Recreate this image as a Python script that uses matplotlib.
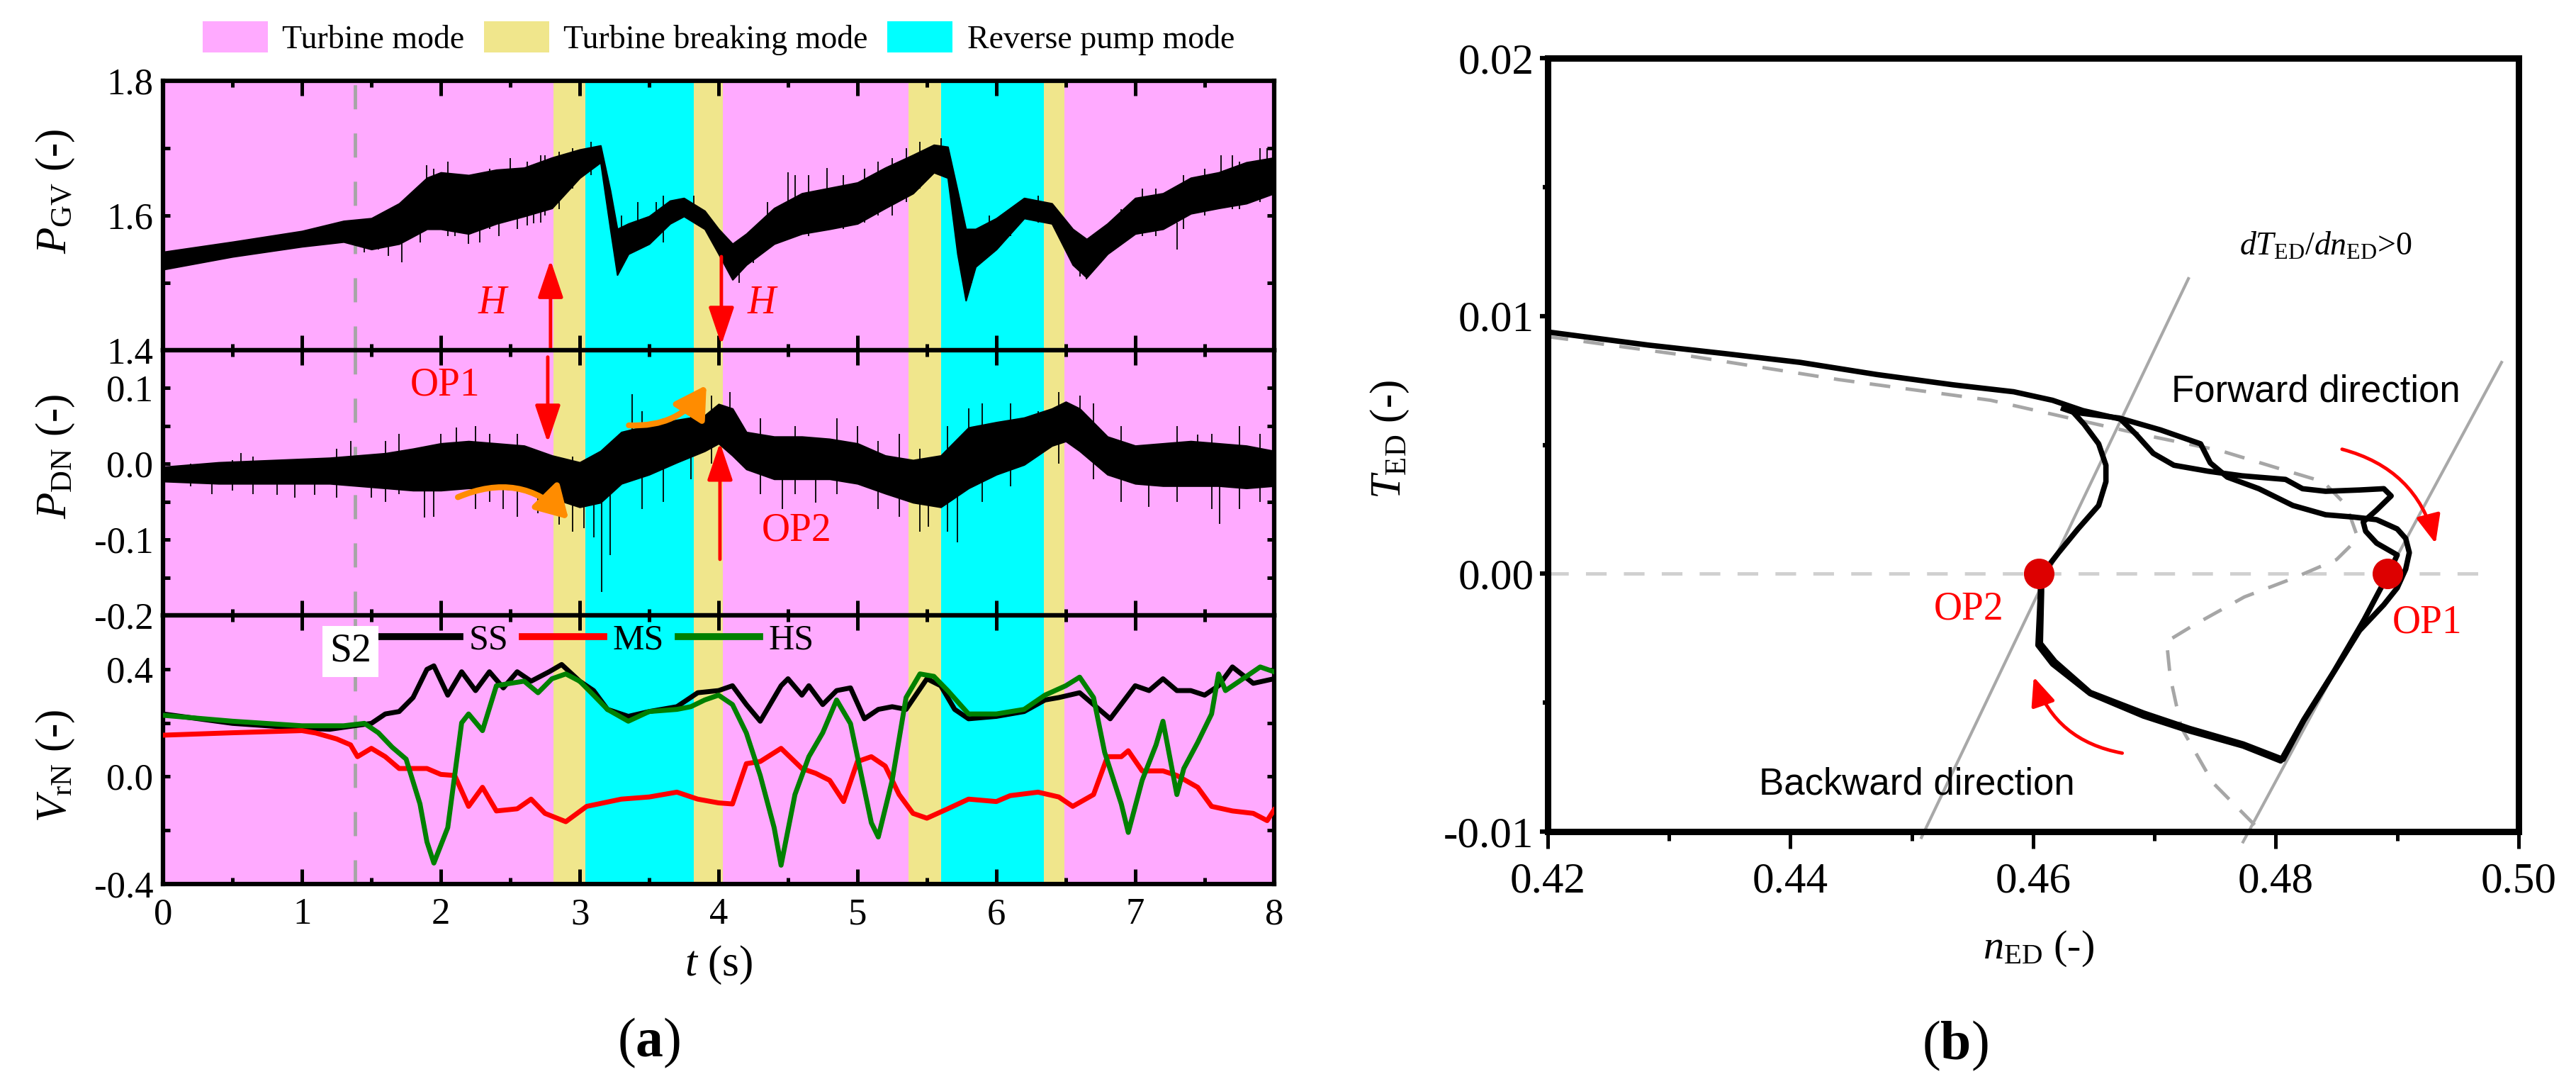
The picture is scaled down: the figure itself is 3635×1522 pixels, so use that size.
import numpy as np
import matplotlib.pyplot as plt
from matplotlib.patches import Patch, FancyArrowPatch
from matplotlib.lines import Line2D

plt.rcParams['font.family'] = ['Liberation Serif', 'DejaVu Serif']
plt.rcParams['mathtext.fontset'] = 'custom'
plt.rcParams['mathtext.rm'] = 'Liberation Serif'
plt.rcParams['mathtext.it'] = 'Liberation Serif:italic'
plt.rcParams['mathtext.bf'] = 'Liberation Serif:bold'
plt.rcParams['axes.unicode_minus'] = False

# ---------------- data ----------------
# operating modes along time
mode_start = [0.0, 2.81, 3.04, 3.82, 4.03, 5.37, 5.60, 6.34, 6.49]
mode_end = [2.81, 3.04, 3.82, 4.03, 5.37, 5.60, 6.34, 6.49, 8.0]
mode_kind = ['T', 'B', 'P', 'B', 'T', 'B', 'P', 'B', 'T']
mode_names = {'T': 'Turbine mode', 'B': 'Turbine breaking mode', 'P': 'Reverse pump mode'}
mode_colors = {'T': '#ffaaff', 'B': '#f0e68c', 'P': '#00ffff'}
t_s2 = 1.38

# P_GV : dense noisy band (upper / lower envelope) + single spikes
pgv_t = [0, 0.5, 1.0, 1.3, 1.5, 1.7, 1.9, 2.0, 2.2, 2.4, 2.6, 2.8, 3.0, 3.15, 3.22, 3.27,
         3.35, 3.5, 3.65, 3.75, 3.9, 4.0, 4.1, 4.2, 4.4, 4.6, 4.8, 5.0, 5.2, 5.4, 5.55,
         5.65, 5.72, 5.78, 5.85, 6.0, 6.2, 6.4, 6.55, 6.65, 6.8, 7.0, 7.2, 7.4, 7.6, 7.8, 8.0]
pgv_hi = [1.546, 1.561, 1.577, 1.592, 1.596, 1.618, 1.656, 1.664, 1.660, 1.668, 1.671, 1.686,
          1.698, 1.704, 1.637, 1.580, 1.588, 1.599, 1.622, 1.626, 1.607, 1.580, 1.558, 1.573,
          1.611, 1.633, 1.641, 1.649, 1.671, 1.690, 1.705, 1.702, 1.637, 1.580, 1.580, 1.596,
          1.626, 1.618, 1.580, 1.565, 1.588, 1.626, 1.633, 1.656, 1.664, 1.679, 1.686]
pgv_lo = [1.520, 1.539, 1.554, 1.561, 1.550, 1.558, 1.580, 1.580, 1.573, 1.588, 1.599, 1.611,
          1.656, 1.679, 1.580, 1.512, 1.543, 1.558, 1.588, 1.599, 1.580, 1.543, 1.505, 1.527,
          1.558, 1.573, 1.580, 1.588, 1.611, 1.633, 1.664, 1.656, 1.543, 1.474, 1.524, 1.550,
          1.596, 1.588, 1.527, 1.508, 1.543, 1.573, 1.580, 1.603, 1.611, 1.618, 1.633]
pgv_spk_t = [1.45, 1.55, 1.62, 1.72, 1.78, 1.85, 1.9, 1.95, 2.05, 2.1, 2.2, 2.28, 2.35, 2.42,
             2.5, 2.55, 2.62, 2.67, 2.72, 2.75, 2.85, 2.95, 3.08, 3.3, 3.42, 3.55, 3.6, 3.82,
             4.15, 4.25, 4.35, 4.5, 4.55, 4.65, 4.78, 4.9, 5.05, 5.15, 5.25, 5.35, 5.45, 5.6,
             5.82, 5.95, 6.1, 6.3, 6.6, 6.65, 6.75, 6.9, 7.05, 7.15, 7.3, 7.35, 7.5, 7.62,
             7.7, 7.75, 7.9, 7.95]
pgv_spk_lo = [1.545, 1.55, 1.54, 1.531, 1.57, 1.56, 1.60, 1.59, 1.57, 1.57, 1.558, 1.56, 1.58,
              1.57, 1.60, 1.58, 1.585, 1.588, 1.59, 1.60, 1.61, 1.64, 1.66, 1.53, 1.55, 1.57,
              1.56, 1.59, 1.50, 1.53, 1.55, 1.62, 1.57, 1.57, 1.62, 1.58, 1.59, 1.60, 1.60,
              1.62, 1.64, 1.66, 1.50, 1.54, 1.57, 1.59, 1.51, 1.505, 1.53, 1.56, 1.57, 1.57,
              1.55, 1.58, 1.60, 1.64, 1.61, 1.61, 1.62, 1.63]
pgv_spk_hi = [1.57, 1.60, 1.59, 1.56, 1.63, 1.64, 1.675, 1.67, 1.68, 1.66, 1.59, 1.66, 1.67,
              1.66, 1.685, 1.67, 1.68, 1.62, 1.69, 1.69, 1.695, 1.70, 1.71, 1.60, 1.62, 1.62,
              1.63, 1.63, 1.55, 1.58, 1.62, 1.664, 1.66, 1.66, 1.671, 1.66, 1.67, 1.68, 1.685,
              1.70, 1.71, 1.715, 1.58, 1.60, 1.61, 1.63, 1.56, 1.53, 1.58, 1.61, 1.64, 1.64,
              1.59, 1.66, 1.67, 1.69, 1.69, 1.68, 1.70, 1.70]

# P_DN : dense noisy band + single spikes
pdn_t = [0, 0.4, 0.8, 1.2, 1.4, 1.6, 1.8, 2.0, 2.2, 2.4, 2.6, 2.8, 3.0, 3.15, 3.3, 3.5, 3.7,
         3.9, 4.0, 4.1, 4.2, 4.4, 4.6, 4.8, 5.0, 5.2, 5.4, 5.6, 5.8, 6.0, 6.2, 6.4, 6.5, 6.6,
         6.8, 7.0, 7.2, 7.4, 7.6, 7.8, 8.0]
pdn_hi = [-0.004, 0.002, 0.005, 0.008, 0.011, 0.014, 0.020, 0.027, 0.030, 0.027, 0.024, 0.011,
          0.002, 0.017, 0.042, 0.051, 0.058, 0.064, 0.079, 0.073, 0.042, 0.036, 0.036, 0.033,
          0.027, 0.011, 0.005, 0.011, 0.048, 0.055, 0.061, 0.073, 0.082, 0.073, 0.036, 0.024,
          0.027, 0.030, 0.027, 0.024, 0.017]
pdn_lo = [-0.023, -0.026, -0.026, -0.026, -0.029, -0.032, -0.035, -0.035, -0.032, -0.032,
          -0.035, -0.045, -0.057, -0.051, -0.026, -0.014, 0.002, 0.017, 0.027, 0.011, -0.007,
          -0.020, -0.020, -0.020, -0.026, -0.039, -0.051, -0.057, -0.032, -0.014, -0.001,
          0.024, 0.030, 0.017, -0.014, -0.026, -0.029, -0.029, -0.029, -0.032, -0.029]
pdn_spk_t = [0.2, 0.35, 0.5, 0.56, 0.65, 0.82, 0.95, 1.09, 1.25, 1.35, 1.5, 1.6, 1.7, 1.88,
             1.95, 2.0, 2.11, 2.25, 2.35, 2.45, 2.55, 2.7, 2.85, 2.95, 3.03, 3.10, 3.16, 3.22,
             3.38, 3.45, 3.6, 3.8, 3.95, 4.08, 4.3, 4.46, 4.55, 4.7, 4.85, 5.0, 5.15, 5.3,
             5.45, 5.51, 5.65, 5.72, 5.8, 5.9, 6.1, 6.3, 6.45, 6.6, 6.7, 6.9, 7.1, 7.3, 7.45,
             7.55, 7.61, 7.75, 7.9]
pdn_spk_lo = [-0.03, -0.04, -0.035, -0.01, -0.04, -0.041, -0.045, -0.041, -0.045, -0.03,
              -0.045, -0.05, -0.04, -0.071, -0.07, 0.0, 0.0, -0.06, -0.05, -0.06, -0.07, -0.065,
              -0.08, -0.09, -0.085, -0.097, -0.169, -0.12, 0.0, -0.06, -0.05, -0.02, 0.0, 0.05,
              -0.04, -0.06, -0.04, -0.051, -0.04, 0.01, -0.06, -0.07, -0.09, -0.083, -0.09,
              -0.104, 0.03, -0.05, -0.03, 0.03, 0.0, 0.05, -0.02, -0.05, -0.057, -0.05, 0.01,
              -0.06, -0.079, -0.06, -0.05]
pdn_spk_hi = [0.0, 0.0, 0.005, 0.014, 0.01, -0.01, 0.005, -0.01, 0.02, 0.03, 0.0, 0.03, 0.04,
              -0.02, 0.02, 0.04, 0.048, 0.05, 0.04, 0.0, 0.04, -0.02, 0.0, 0.01, -0.04, -0.04,
              -0.05, 0.0, 0.092, 0.07, 0.06, 0.07, 0.09, 0.095, 0.06, -0.01, 0.05, -0.01, 0.06,
              0.05, 0.03, 0.04, 0.02, -0.04, 0.05, -0.04, 0.073, 0.08, 0.08, 0.07, 0.095, 0.09,
              0.08, 0.05, -0.02, 0.05, 0.039, 0.04, -0.02, 0.05, 0.04]

# V_rN : three smooth signals
ss_t = [0, 0.5, 1.0, 1.2, 1.5, 1.6, 1.7, 1.8, 1.9, 1.95, 2.05, 2.15, 2.25, 2.35, 2.45, 2.55,
        2.65, 2.78, 2.87, 3.0, 3.1, 3.2, 3.35, 3.5, 3.7, 3.85, 4.0, 4.1, 4.2, 4.3, 4.45, 4.5,
        4.6, 4.65, 4.75, 4.85, 4.95, 5.05, 5.15, 5.25, 5.35, 5.5, 5.6, 5.7, 5.8, 6.0, 6.2,
        6.35, 6.45, 6.6, 6.7, 6.82, 7.0, 7.1, 7.2, 7.3, 7.4, 7.5, 7.6, 7.7, 7.85, 8.0]
ss_v = [0.233, 0.198, 0.18, 0.176, 0.198, 0.233, 0.242, 0.294, 0.399, 0.412, 0.303, 0.39,
        0.32, 0.39, 0.33, 0.39, 0.355, 0.39, 0.417, 0.355, 0.32, 0.25, 0.224, 0.242, 0.26,
        0.312, 0.32, 0.338, 0.268, 0.206, 0.338, 0.364, 0.303, 0.338, 0.268, 0.32, 0.33,
        0.215, 0.25, 0.26, 0.25, 0.364, 0.338, 0.25, 0.215, 0.224, 0.242, 0.285, 0.294,
        0.312, 0.268, 0.215, 0.338, 0.32, 0.364, 0.32, 0.32, 0.303, 0.338, 0.408, 0.347, 0.364]
ms_t = [0, 0.5, 1.0, 1.1, 1.25, 1.35, 1.4, 1.5, 1.6, 1.7, 1.9, 2.0, 2.1, 2.2, 2.3, 2.4, 2.55,
        2.65, 2.75, 2.9, 3.05, 3.3, 3.5, 3.7, 3.85, 4.0, 4.1, 4.2, 4.3, 4.45, 4.6, 4.7, 4.8,
        4.9, 5.0, 5.1, 5.2, 5.3, 5.4, 5.5, 5.65, 5.8, 6.0, 6.1, 6.3, 6.45, 6.55, 6.7, 6.8,
        6.9, 6.95, 7.05, 7.2, 7.3, 7.45, 7.55, 7.7, 7.85, 7.95, 8.0]
ms_v = [0.154, 0.163, 0.171, 0.162, 0.14, 0.118, 0.074, 0.105, 0.074, 0.03, 0.03, 0.008,
        0.004, -0.111, -0.04, -0.128, -0.12, -0.084, -0.137, -0.168, -0.111, -0.084, -0.076,
        -0.058, -0.084, -0.098, -0.102, 0.048, 0.056, 0.105, 0.03, 0.012, -0.014, -0.093,
        0.056, 0.074, 0.039, -0.067, -0.137, -0.155, -0.12, -0.084, -0.093, -0.071, -0.058,
        -0.076, -0.111, -0.067, 0.074, 0.074, 0.096, 0.021, 0.021, 0.004, -0.04, -0.111,
        -0.128, -0.137, -0.164, -0.124]
hs_t = [0, 0.5, 1.0, 1.3, 1.45, 1.55, 1.65, 1.75, 1.85, 1.9, 1.95, 2.05, 2.15, 2.2, 2.3, 2.4,
        2.5, 2.6, 2.7, 2.8, 2.9, 3.0, 3.1, 3.2, 3.35, 3.5, 3.7, 3.8, 3.9, 4.0, 4.1, 4.2, 4.3,
        4.4, 4.45, 4.55, 4.65, 4.75, 4.85, 4.95, 5.1, 5.15, 5.25, 5.35, 5.45, 5.55, 5.65, 5.8,
        6.0, 6.2, 6.35, 6.5, 6.6, 6.7, 6.78, 6.9, 6.95, 7.05, 7.15, 7.2, 7.3, 7.35, 7.45,
        7.55, 7.6, 7.65, 7.75, 7.9, 8.0]
hs_v = [0.228, 0.206, 0.189, 0.189, 0.198, 0.163, 0.109, 0.065, -0.102, -0.243, -0.322,
        -0.19, 0.2, 0.233, 0.171, 0.338, 0.347, 0.355, 0.312, 0.364, 0.382, 0.355, 0.303,
        0.25, 0.206, 0.242, 0.25, 0.26, 0.285, 0.303, 0.268, 0.162, 0.004, -0.19, -0.33,
        -0.067, 0.074, 0.163, 0.285, 0.197, -0.172, -0.225, -0.014, 0.294, 0.382, 0.373,
        0.32, 0.233, 0.233, 0.25, 0.303, 0.338, 0.37, 0.294, 0.09, -0.102, -0.208, -0.014,
        0.118, 0.206, -0.067, 0.03, 0.127, 0.233, 0.382, 0.32, 0.355, 0.408, 0.39]

# annotations of panel (a)
h_arrow_t = [2.79, 4.02]
h_arrow_from = [1.40, 1.539]
h_arrow_to = [1.534, 1.408]
h_text_t = [2.37, 4.31]
op_arrow_t = [2.77, 4.01]
op_arrow_from = [0.141, -0.126]
op_arrow_to = [0.028, 0.028]
op_text = ['OP1', 'OP2']
op_text_t = [2.03, 4.56]
op_text_v = [0.104, -0.088]
orange_from = [(2.11, -0.045), (3.34, 0.051)]
orange_to = [(2.93, -0.075), (3.92, 0.106)]
orange_rad = [-0.35, 0.3]

# panel (b): T_ED vs n_ED trajectory
loop1_n = [0.4200, 0.4283, 0.4346, 0.4408, 0.4471, 0.4534, 0.4584, 0.4616, 0.4641, 0.4672,
           0.4685, 0.4699, 0.4716, 0.4744, 0.4772, 0.4808, 0.4822, 0.4841, 0.4869, 0.4889,
           0.4895, 0.4883, 0.4872, 0.4874, 0.4883, 0.4900, 0.4893, 0.4886, 0.4873, 0.4848,
           0.4823, 0.4804, 0.4773, 0.4729, 0.4691, 0.4647, 0.4616, 0.4604, 0.4606, 0.4606,
           0.4612, 0.4621, 0.4637, 0.4654, 0.4660, 0.4660, 0.4654, 0.4642, 0.4633]
loop1_T = [0.00938, 0.00887, 0.00854, 0.00820, 0.00773, 0.00733, 0.00706, 0.00673, 0.00633,
           0.00600, 0.00540, 0.00467, 0.00421, 0.00398, 0.00380, 0.00366, 0.00330, 0.00320,
           0.00325, 0.00330, 0.00302, 0.00247, 0.00201, 0.00165, 0.00119, 0.00073, 0.0,
           -0.00060, -0.00176, -0.00378, -0.00566, -0.00726, -0.00668, -0.00610, -0.00552,
           -0.00465, -0.00350, -0.00277, -0.00074, 0.0, 0.00027, 0.00082, 0.00174, 0.00265,
           0.00357, 0.00421, 0.00504, 0.00580, 0.00627]
loop2_n = [0.4625, 0.4633, 0.4671, 0.4705, 0.4738, 0.4746, 0.4760, 0.4786, 0.4814, 0.4841,
           0.4864, 0.4883, 0.4900, 0.4907, 0.4910, 0.4907, 0.4900, 0.4889, 0.4869, 0.4848,
           0.4823, 0.4806, 0.4773, 0.4729, 0.4691, 0.4647, 0.4618, 0.4606, 0.4607, 0.4607]
loop2_T = [0.00640, 0.00627, 0.00604, 0.00558, 0.00504, 0.00430, 0.00375, 0.00330, 0.00265,
           0.00229, 0.00220, 0.00210, 0.00174, 0.00137, 0.00082, 0.00018, -0.00055, -0.00120,
           -0.00220, -0.00380, -0.00570, -0.00720, -0.00660, -0.00600, -0.00540, -0.00460,
           -0.00340, -0.00270, -0.00070, 0.0]
steady_n = [0.4200, 0.4314, 0.4440, 0.4565, 0.4628, 0.4691, 0.4754, 0.4800, 0.4839, 0.4858,
            0.4867, 0.4864, 0.4850, 0.4814, 0.4774, 0.4732, 0.4710, 0.4713, 0.4722, 0.4748,
            0.4785]
steady_T = [0.00920, 0.00847, 0.00753, 0.00673, 0.00606, 0.00539, 0.00478, 0.00412, 0.00357,
            0.00266, 0.00147, 0.00120, 0.00055, -0.00018, -0.00090, -0.00200, -0.00263,
            -0.00400, -0.00596, -0.00810, -0.00986]
zero_n = [0.420, 0.4974]
zero_T = [0.0, 0.0]
tangent1_n = [0.4508, 0.4728]
tangent1_T = [-0.01023, 0.01145]
tangent2_n = [0.4773, 0.4986]
tangent2_T = [-0.0104, 0.0082]
op_pts_n = [0.4605, 0.4892]
op_pts_T = [0.0, 0.0]
op_lbl = ['OP2', 'OP1']
op_lbl_n = [0.4547, 0.4925]
op_lbl_T = [-0.00139, -0.0019]
dir_from = [(0.4853, 0.00485), (0.4675, -0.00697)]
dir_to = [(0.4932, 0.00110), (0.4600, -0.00393)]

# ticks
t_ticks = [0, 1, 2, 3, 4, 5, 6, 7, 8]
t_minor = [0.5, 1.5, 2.5, 3.5, 4.5, 5.5, 6.5, 7.5]
pgv_ticks = [1.4, 1.6, 1.8]
pgv_minor = [1.5, 1.7]
pdn_ticks = [-0.2, -0.1, 0.0, 0.1]
pdn_minor = [-0.15, -0.05, 0.05]
v_ticks = [-0.4, 0.0, 0.4]
v_minor = [-0.2, 0.2]
n_ticks = [0.42, 0.44, 0.46, 0.48, 0.50]
n_minor = [0.43, 0.45, 0.47, 0.49]
T_ticks = [-0.01, 0.0, 0.01, 0.02]
T_minor = [-0.005, 0.005, 0.015]

# ---------------- figure ----------------
fig = plt.figure(figsize=(36.35, 15.22), dpi=100)
ax1 = fig.add_axes([0.0633, 0.6754, 0.4313, 0.2497])
ax2 = fig.add_axes([0.0633, 0.4297, 0.4313, 0.2457])
ax3 = fig.add_axes([0.0633, 0.1807, 0.4313, 0.2490])
ax4 = fig.add_axes([0.6008, 0.2293, 0.3769, 0.7168])

tick_fs = 38
for ax in (ax1, ax2, ax3):
    for s, e, k in zip(mode_start, mode_end, mode_kind):
        ax.axvspan(s, e, color=mode_colors[k], lw=0, zorder=0)
    ax.axvline(t_s2, color='#a6a6a6', lw=3.5, dashes=(7, 7), zorder=1)
    ax.set_xlim(0, 8)
    ax.set_xticks(t_ticks, labels=[str(v) for v in t_ticks])
    ax.set_xticks(t_minor, minor=True)
    ax.tick_params(axis='x', which='major', direction='in', top=True, bottom=True,
                   length=15, width=3.6, labelsize=tick_fs, pad=14)
    ax.tick_params(axis='x', which='minor', direction='in', top=True, bottom=True,
                   length=6.5, width=3.6)
    ax.tick_params(axis='y', which='both', direction='in', left=True, right=True,
                   length=7, width=3.6, labelsize=tick_fs, pad=10)
    for sp in ax.spines.values():
        sp.set_linewidth(4.5)
for ax in (ax1, ax2):
    ax.tick_params(axis='x', labelbottom=False)

# P_GV
ax1.fill_between(pgv_t, pgv_lo, pgv_hi, color='k', lw=1.5, zorder=2)
ax1.vlines(pgv_spk_t, pgv_spk_lo, pgv_spk_hi, color='k', lw=1.3, zorder=2)
ax1.set_ylim(1.4, 1.8)
ax1.set_yticks(pgv_ticks, labels=['%.1f' % v for v in pgv_ticks])
ax1.set_yticks(pgv_minor, minor=True)
ax1.set_ylabel(r'$P_{\rm GV}$ (-)', fontsize=44)
ax1.yaxis.set_label_coords(-0.078, 0.59)
for t, a, b in zip(h_arrow_t, h_arrow_from, h_arrow_to):
    ax1.annotate('', xy=(t, b), xytext=(t, a),
                 arrowprops=dict(arrowstyle='-|>,head_length=0.65,head_width=0.22',
                                 mutation_scale=50, color='red', lw=3.5,
                                 shrinkA=0, shrinkB=0), zorder=5)
for t in h_text_t:
    ax1.text(t, 1.47, 'H', color='red', fontsize=40, style='italic',
             ha='center', va='center', zorder=5)

# P_DN
ax2.fill_between(pdn_t, pdn_lo, pdn_hi, color='k', lw=1.5, zorder=2)
ax2.vlines(pdn_spk_t, pdn_spk_lo, pdn_spk_hi, color='k', lw=1.3, zorder=2)
ax2.set_ylim(-0.2, 0.15)
ax2.set_yticks(pdn_ticks, labels=['%.1f' % v for v in pdn_ticks])
ax2.set_yticks(pdn_minor, minor=True)
ax2.set_ylabel(r'$P_{\rm DN}$ (-)', fontsize=44)
ax2.yaxis.set_label_coords(-0.078, 0.6)
for t, a, b in zip(op_arrow_t, op_arrow_from, op_arrow_to):
    ax2.annotate('', xy=(t, b), xytext=(t, a),
                 arrowprops=dict(arrowstyle='-|>,head_length=0.65,head_width=0.22',
                                 mutation_scale=50, color='red', lw=3.5,
                                 shrinkA=0, shrinkB=0), zorder=5)
for s, t, v in zip(op_text, op_text_t, op_text_v):
    ax2.text(t, v, s, color='red', fontsize=40, ha='center', va='center', zorder=5)
for a, b, r in zip(orange_from, orange_to, orange_rad):
    ax2.add_patch(FancyArrowPatch(a, b, connectionstyle='arc3,rad=%s' % r,
                                  arrowstyle='-|>,head_length=0.6,head_width=0.35',
                                  mutation_scale=45, color='#ff8c00', lw=6, zorder=6))

# V_rN
ax3.plot(ss_t, ss_v, color='k', lw=5, zorder=3)
ax3.plot(ms_t, ms_v, color='#ff0000', lw=5, zorder=3)
ax3.plot(hs_t, hs_v, color='#008000', lw=5, zorder=4)
ax3.set_ylim(-0.4, 0.6)
ax3.set_yticks(v_ticks, labels=['%.1f' % v for v in v_ticks])
ax3.set_yticks(v_minor, minor=True)
ax3.set_ylabel(r'$V_{\rm rN}$ (-)', fontsize=44)
ax3.yaxis.set_label_coords(-0.078, 0.44)
ax3.set_xlabel(r'$t$ (s)', fontsize=44)
ax3.xaxis.set_label_coords(0.5, -0.225)
leg_h = [Line2D([], [], color=c, lw=7) for c in ('k', '#ff0000', '#008000')]
lg = ax3.legend(leg_h, ['SS', 'MS', 'HS'], ncol=3, loc='center left',
                bbox_to_anchor=(0.194, 0.908), frameon=False, fontsize=36,
                handlelength=2.3, handletextpad=0.25, columnspacing=0.4,
                borderpad=0, borderaxespad=0)
lg.set_zorder(8)
ax3.text(1.35, 0.466, 'S2', fontsize=40, ha='center', va='center', zorder=9,
         bbox=dict(boxstyle='square,pad=0.18', fc='white', ec='none'))

# mode legend
mode_handles = [Patch(facecolor=mode_colors[k], edgecolor='none') for k in ('T', 'B', 'P')]
fig.legend(mode_handles, [mode_names[k] for k in ('T', 'B', 'P')], ncol=3,
           loc='center', bbox_to_anchor=(0.279, 0.9645), frameon=False, fontsize=33,
           handlelength=2.0, handleheight=1.1, handletextpad=0.45, columnspacing=0.6)

# ---------------- panel (b) ----------------
ax4.plot(zero_n, zero_T, color='#d0d0d0', lw=3.5, dashes=(6, 5), zorder=1)
ax4.plot(steady_n, steady_T, color='#a6a6a6', lw=3.5, dashes=(6, 4.5), zorder=1)
ax4.plot(tangent1_n, tangent1_T, color='#a8a8a8', lw=3, zorder=2, clip_on=False)
ax4.plot(tangent2_n, tangent2_T, color='#a8a8a8', lw=3, zorder=2, clip_on=False)
ax4.plot(loop1_n, loop1_T, color='k', lw=5.5, zorder=3)
ax4.plot(loop2_n, loop2_T, color='k', lw=5.5, zorder=3)
ax4.plot(op_pts_n, op_pts_T, 'o', color='#dd0000', ms=30, zorder=5)
for s, n, T in zip(op_lbl, op_lbl_n, op_lbl_T):
    ax4.text(n, T, s, color='red', fontsize=40, ha='center', va='center')
for a, b in zip(dir_from, dir_to):
    ax4.add_patch(FancyArrowPatch(a, b, connectionstyle='arc3,rad=-0.3',
                                  arrowstyle='-|>,head_length=0.7,head_width=0.3',
                                  mutation_scale=35, color='red', lw=3.5, zorder=6))
ax4.text(0.4714, 0.00706, 'Forward direction', family='Liberation Sans', fontsize=38,
         ha='left', va='center')
ax4.text(0.4374, -0.00816, 'Backward direction', family='Liberation Sans', fontsize=38,
         ha='left', va='center')
ax4.text(0.4770, 0.01236, r'$dT_{\rm ED}/dn_{\rm ED}$>0', fontsize=33, ha='left',
         va='baseline')
ax4.set_xlim(0.42, 0.50)
ax4.set_ylim(-0.01, 0.02)
ax4.set_xticks(n_ticks, labels=['%.2f' % v for v in n_ticks])
ax4.set_xticks(n_minor, minor=True)
ax4.set_yticks(T_ticks, labels=['%.2f' % v for v in T_ticks])
ax4.set_yticks(T_minor, minor=True)
ax4.tick_params(axis='x', which='major', direction='out', length=17, width=3.6,
                labelsize=44, pad=14)
ax4.tick_params(axis='x', which='minor', direction='out', length=9, width=3.6)
ax4.tick_params(axis='y', which='major', direction='out', length=8, width=4.5,
                labelsize=44, pad=6)
ax4.tick_params(axis='y', which='minor', direction='out', length=5, width=4.5)
for sp in ax4.spines.values():
    sp.set_linewidth(6.5)
ax4.set_xlabel(r'$n_{\rm ED}$ (-)', fontsize=42)
ax4.xaxis.set_label_coords(0.506, -0.126)
ax4.set_ylabel(r'$T_{\rm ED}$ (-)', fontsize=44)
ax4.yaxis.set_label_coords(-0.141, 0.507)

fig.text(0.252, 0.033, r'($\mathbf{a}$)', fontsize=56, ha='center', va='center')
fig.text(0.759, 0.031, r'($\mathbf{b}$)', fontsize=56, ha='center', va='center')

fig.savefig('out.png', dpi=100)
